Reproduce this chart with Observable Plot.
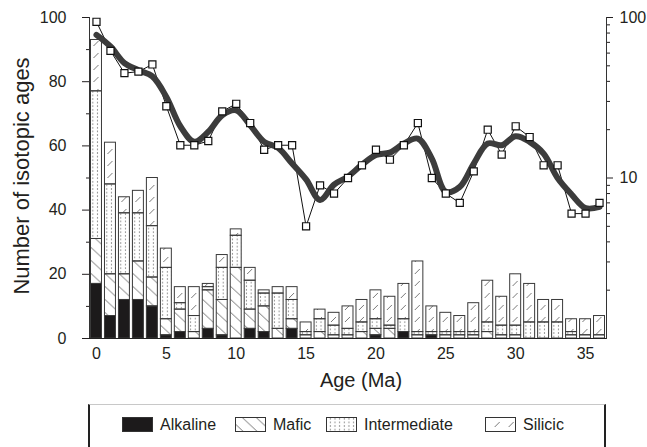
<!DOCTYPE html>
<html><head><meta charset="utf-8">
<script src="https://cdn.jsdelivr.net/npm/d3@7"></script>
<script src="https://cdn.jsdelivr.net/npm/@observablehq/plot@0.6"></script>
<style>
body{margin:0;background:#fff;font-family:"Liberation Sans",Arial,sans-serif;color:#231f20}
#chart{position:relative;width:647px;height:447px;overflow:hidden}
#legend{position:absolute;left:88px;top:404px;width:518px;height:60px;box-sizing:border-box;border-top:1.5px solid #c8c8c8;border-left:2px solid #222;border-right:2px solid #222}
.item{position:absolute;top:12px;height:15px;display:flex;align-items:center;font-size:16px;white-space:nowrap}
.item svg{margin-right:7px;display:block}
</style></head><body>
<svg width="0" height="0" style="position:absolute">
<defs>
<pattern id="mafic" patternUnits="userSpaceOnUse" x="90.5" y="0" width="13.97" height="13">
<line x1="0" y1="0" x2="13.97" y2="13" stroke="#555" stroke-width="0.8"/>
</pattern>
<pattern id="inter" patternUnits="userSpaceOnUse" x="90.5" y="0" width="4.657" height="3.6">
<circle cx="2.3" cy="1.8" r="0.6" fill="#555"/>
</pattern>
<pattern id="silicic" patternUnits="userSpaceOnUse" x="90.5" y="0" width="13.97" height="12">
<line x1="3" y1="10" x2="8" y2="5" stroke="#555" stroke-width="0.8"/>
</pattern>
</defs></svg>
<div id="chart"><div id="plot"></div><div id="legend"></div></div>
<script>
// ---- data ----
const ages = [0,1,2,3,4,5,6,7,8,9,10,11,12,13,14,15,16,17,18,19,20,21,22,23,24,25,26,27,28,29,30,31,32,33,34,35,36];
const types = ["Alkaline","Mafic","Intermediate","Silicic"];
const alkaline =     [17,7,12,12,10,1,2,0,3,1,0,3,2,0,3,0,0,0,0,0,1,0,2,0,1,0,0,0,0,0,0,0,0,0,0,0,0];
const mafic =        [14,13,8,12,9,5,7,2,12,11,22,6,8,3,3,1,2,1,1,2,2,3,0,1,0,1,1,1,2,1,1,0,0,0,1,1,1];
const intermediate = [46,28,19,15,16,16,2,5,1,10,10,9,4,11,6,1,4,3,2,3,3,1,4,1,1,1,1,1,3,3,3,5,5,5,1,0,0];
const silicic =      [16,13,5,7,15,6,5,9,1,4,2,4,1,2,4,3,3,4,7,7,9,9,11,22,8,6,5,9,13,9,16,12,7,7,4,5,6];
// total ages per 1 Ma bin, read on the right-hand log axis (squares)
const totalLog = [94,62,45,46,51,28,16,16,17,26,29,22,15,16,16,5,9,8,10,12,15,13,16,22,10,8,7,11,20,14,21,18,12,12,6,6,7];
// smoothed curve (thick grey line), right-hand log axis
const smooth = [78,66,52,47,43,32,21,16.8,19.4,24.6,26.4,21.3,16.8,15.4,12.3,9.8,7.3,9.1,10.2,12.1,13.9,14.4,16.4,17.6,13.2,8.2,8.8,12.3,16.4,16,18.2,16.8,14.2,10,7.9,6.5,6.6];
const leftTicks = [0,20,40,60,80,100];
const leftMinor = [10,30,50,70,90];
const xTicks = [0,5,10,15,20,25,30,35];
const rightMajor = [10,100];
const rightMinor = [2,3,4,5,6,7,8,9,20,30,40,50,60,70,80,90];

// ---- styles ----
const fills = {Alkaline:"#1c1a1b", Mafic:"url(#mafic)", Intermediate:"url(#inter)", Silicic:"url(#silicic)"};
const legendLeft = {Alkaline:32, Mafic:145, Intermediate:236, Silicic:395};

const series = [alkaline, mafic, intermediate, silicic];
const rows = [];
ages.forEach((a, i) => {
  let base = 0;
  types.forEach((t, j) => {
    const v = series[j][i];
    if (v > 0) rows.push({age: a, type: t, y1: base, y2: base + v});
    base += v;
  });
});
const lg = v => 50 * Math.log10(v); // right log axis (1..100) shares the 0..100 frame
const pts = ages.map((a, i) => ({age: a, v: totalLog[i], s: smooth[i]}));

const marks = [];
types.forEach(t => {
  marks.push(Plot.rect(rows.filter(d => d.type === t), {
    x1: d => d.age - 0.5, x2: d => d.age + 0.5, y1: "y1", y2: "y2",
    insetLeft: 1.5, insetRight: 1.5, fill: fills[t], stroke: "#3a3a3a", strokeWidth: 1
  }));
});
marks.push(
  Plot.line(pts, {x: "age", y: d => lg(d.v), stroke: "#111", strokeWidth: 1}),
  Plot.line(pts, {x: "age", y: d => lg(d.s), stroke: "#3c3c3c", strokeWidth: 6, curve: "catmull-rom", strokeLinejoin: "round"}),
  Plot.dot(pts, {x: "age", y: d => lg(d.v), symbol: "square", r: 4, fill: "white", stroke: "#111", strokeWidth: 1.2}),
  Plot.frame({anchor: "left", stroke: "#333"}),
  Plot.frame({anchor: "right", stroke: "#333"}),
  Plot.ruleY([0], {stroke: "#222", strokeWidth: 1.2}),
  Plot.axisY(leftTicks, {tickSize: 7, tickPadding: 16, fontSize: 16, label: null}),
  Plot.axisY(leftMinor, {tickSize: 3, tickFormat: () => "", label: null}),
  Plot.axisY(rightMajor.map(lg), {anchor: "right", tickSize: 6, tickPadding: 7, fontSize: 16, label: null, tickFormat: d => String(Math.round(10 ** (d / 50)))}),
  Plot.axisY(rightMinor.map(lg), {anchor: "right", tickSize: 3, tickFormat: () => "", label: null}),
  Plot.axisX(xTicks, {tickSize: 0, tickPadding: 9, fontSize: 16, label: null}),
  Plot.text(["Number of isotopic ages"], {frameAnchor: "left", rotate: -90, dx: -68, dy: -2, fontSize: 22, textAnchor: "middle", lineAnchor: "middle"}),
  Plot.text(["Age (Ma)"], {frameAnchor: "bottom", dy: 42, dx: 13, fontSize: 20, textAnchor: "middle", lineAnchor: "middle"})
);

const chart = Plot.plot({
  width: 647, height: 400,
  marginTop: 17, marginBottom: 62, marginLeft: 89, marginRight: 41,
  x: {domain: [-0.5, 36.5]},
  y: {domain: [0, 100]},
  style: {fontFamily: "'Liberation Sans', Arial, sans-serif", color: "#231f20", background: "white"},
  marks
});
document.getElementById("plot").appendChild(chart);

const legend = document.getElementById("legend");
types.forEach(t => {
  const item = document.createElement("div");
  item.className = "item";
  item.style.left = legendLeft[t] + "px";
  item.innerHTML = `<svg width="31" height="15"><rect x="0.5" y="0.5" width="30" height="14" fill="${fills[t]}" stroke="#333" stroke-width="1"/></svg><span>${t}</span>`;
  legend.appendChild(item);
});
</script>
</body></html>
